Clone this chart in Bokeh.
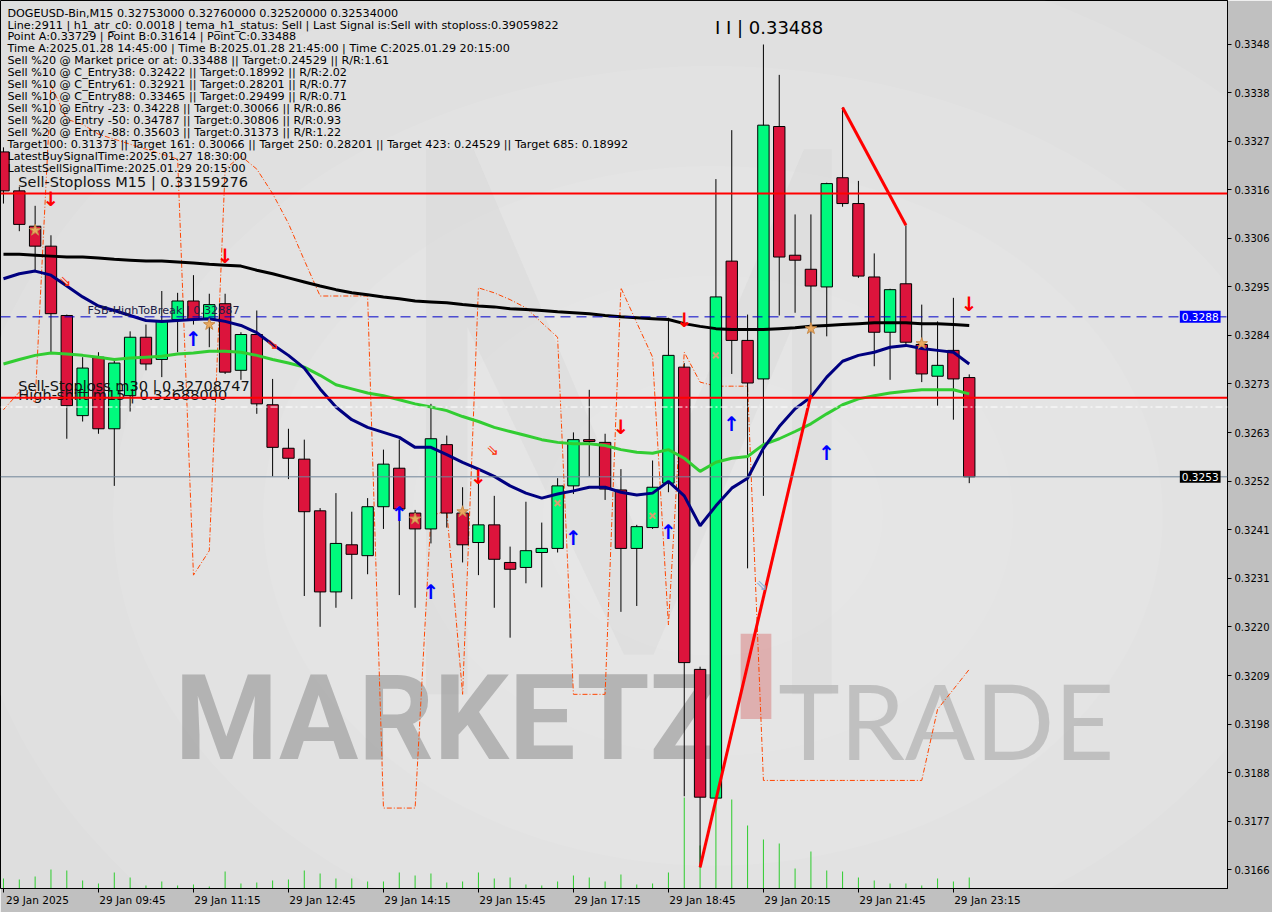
import numpy as np
from bokeh.plotting import figure
from bokeh.models import Range1d, FixedTicker, CustomJSTickFormatter, Label, Span, ColumnDataSource, LinearAxis
from bokeh.core.properties import value
from bokeh.embed import file_html
from bokeh.resources import INLINE

# ---------------- data ----------------
info_lines = [
    "DOGEUSD-Bin,M15  0.32753000 0.32760000 0.32520000 0.32534000",
    "Line:2911 | h1_atr_c0: 0.0018 | tema_h1_status: Sell | Last Signal is:Sell with stoploss:0.39059822",
    "Point A:0.33729 | Point B:0.31614 | Point C:0.33488",
    "Time A:2025.01.28 14:45:00 | Time B:2025.01.28 21:45:00 | Time C:2025.01.29 20:15:00",
    "Sell %20 @ Market price or at: 0.33488 || Target:0.24529 || R/R:1.61",
    "Sell %10 @ C_Entry38: 0.32422 || Target:0.18992 || R/R:2.02",
    "Sell %10 @ C_Entry61: 0.32921 || Target:0.28201 || R/R:0.77",
    "Sell %10 @ C_Entry88: 0.33465 || Target:0.29499 || R/R:0.71",
    "Sell %10 @ Entry -23: 0.34228 || Target:0.30066 || R/R:0.86",
    "Sell %20 @ Entry -50: 0.34787 || Target:0.30806 || R/R:0.93",
    "Sell %20 @ Entry -88: 0.35603 || Target:0.31373 || R/R:1.22",
    "Target100: 0.31373 || Target 161: 0.30066 || Target 250: 0.28201 || Target 423: 0.24529 || Target 685: 0.18992",
    "LatestBuySignalTime:2025.01.27 18:30:00",
    "LatestSellSignalTime:2025.01.29 20:15:00",
]

tick_bars = [0, 6, 12, 18, 24, 30, 36, 42, 48, 54, 60]
tick_labels = ["29 Jan 2025", "29 Jan 09:45", "29 Jan 11:15", "29 Jan 12:45", "29 Jan 14:15",
               "29 Jan 15:45", "29 Jan 17:15", "29 Jan 18:45", "29 Jan 20:15", "29 Jan 21:45",
               "29 Jan 23:15"]
price_ticks = [0.33489, 0.33382, 0.33274, 0.33167, 0.33060, 0.32953, 0.32846, 0.32739, 0.32631,
               0.32524, 0.32417, 0.32310, 0.32203, 0.32095, 0.31988, 0.31881, 0.31774, 0.31667]

opens = [0.33251, 0.33165, 0.33087, 0.33043, 0.32890, 0.32669, 0.32798, 0.32640, 0.32713, 0.32842,
         0.32793, 0.32881, 0.32922, 0.32881, 0.32916, 0.32769, 0.32848, 0.32693, 0.32597, 0.32573,
         0.32459, 0.32280, 0.32384, 0.32360, 0.32468, 0.32553, 0.32454, 0.32419, 0.32605, 0.32454,
         0.32389, 0.32428, 0.32345, 0.32334, 0.32367, 0.32376, 0.32514, 0.32616, 0.32610, 0.32505,
         0.32376, 0.32422, 0.32520, 0.32776, 0.32109, 0.31825, 0.33010, 0.32835, 0.32750, 0.33307,
         0.33023, 0.32992, 0.32953, 0.33194, 0.33137, 0.32975, 0.32853, 0.32960, 0.32826, 0.32756,
         0.32813, 0.32753]
highs = [0.33261, 0.33174, 0.33132, 0.33067, 0.32892, 0.32798, 0.32809, 0.32793, 0.32855, 0.32870,
         0.32944, 0.32940, 0.32979, 0.32938, 0.32938, 0.32853, 0.32901, 0.32750, 0.32640, 0.32616,
         0.32465, 0.32498, 0.32457, 0.32487, 0.32594, 0.32616, 0.32461, 0.32695, 0.32625, 0.32511,
         0.32522, 0.32492, 0.32380, 0.32479, 0.32433, 0.32531, 0.32632, 0.32726, 0.32629, 0.32551,
         0.32428, 0.32570, 0.32885, 0.32785, 0.32115, 0.33191, 0.33299, 0.32892, 0.33488, 0.33421,
         0.33113, 0.33113, 0.33183, 0.33349, 0.33187, 0.33027, 0.32949, 0.33089, 0.32914, 0.32877,
         0.32929, 0.32760]
lows = [0.33137, 0.33076, 0.32990, 0.32809, 0.32618, 0.32656, 0.32629, 0.32514, 0.32678, 0.32769,
        0.32754, 0.32809, 0.32870, 0.32820, 0.32761, 0.32748, 0.32673, 0.32535, 0.32529, 0.32271,
        0.32203, 0.32245, 0.32264, 0.32319, 0.32419, 0.32273, 0.32245, 0.32387, 0.32422, 0.32345,
        0.32317, 0.32245, 0.32179, 0.32299, 0.32290, 0.32367, 0.32496, 0.32535, 0.32483, 0.32236,
        0.32249, 0.32419, 0.32500, 0.31829, 0.31672, 0.31822, 0.32761, 0.32332, 0.32492, 0.32890,
        0.32896, 0.32715, 0.32844, 0.33130, 0.32973, 0.32778, 0.32748, 0.32826, 0.32743, 0.32691,
        0.32660, 0.32520]
closes = [0.33165, 0.33091, 0.33043, 0.32894, 0.32691, 0.32774, 0.32640, 0.32785, 0.32842, 0.32783,
          0.32879, 0.32922, 0.32881, 0.32914, 0.32765, 0.32848, 0.32695, 0.32599, 0.32575, 0.32457,
          0.32280, 0.32387, 0.32363, 0.32468, 0.32562, 0.32463, 0.32419, 0.32618, 0.32454, 0.32384,
          0.32428, 0.32352, 0.32330, 0.32371, 0.32376, 0.32514, 0.32616, 0.32612, 0.32507, 0.32376,
          0.32424, 0.32511, 0.32802, 0.32124, 0.31827, 0.32931, 0.32835, 0.32741, 0.33310, 0.33019,
          0.33012, 0.32955, 0.33181, 0.33137, 0.32977, 0.32853, 0.32947, 0.32831, 0.32761, 0.32780,
          0.32750, 0.32534]
volumes = [250, 225, 300, 475, 450, 200, 125, 400, 275, 75,
           175, 75, 100, 50, 425, 125, 150, 200, 225, 450,
           375, 250, 250, 175, 175, 400, 325, 375, 150, 175,
           400, 250, 275, 100, 75, 175, 325, 275, 175, 350,
           100, 125, 400, 2275, 1075, 2775, 2225, 1575, 1225, 1125,
           500, 925, 450, 425, 275, 200, 125, 125, 75, 250, 175, 275]

ma_black = [0.33025, 0.33025, 0.33023, 0.33021, 0.33019, 0.33019, 0.33017, 0.33014, 0.33012, 0.33010,
            0.33010, 0.33008, 0.33006, 0.33003, 0.33001, 0.32999, 0.32990, 0.32982, 0.32973, 0.32964,
            0.32955, 0.32947, 0.32940, 0.32936, 0.32931, 0.32927, 0.32922, 0.32920, 0.32918, 0.32914,
            0.32911, 0.32909, 0.32905, 0.32903, 0.32901, 0.32898, 0.32896, 0.32894, 0.32890, 0.32887,
            0.32885, 0.32883, 0.32881, 0.32872, 0.32866, 0.32861, 0.32859, 0.32859, 0.32859, 0.32861,
            0.32863, 0.32866, 0.32868, 0.32870, 0.32872, 0.32874, 0.32874, 0.32874, 0.32872, 0.32872,
            0.32870, 0.32868]
ma_navy = [0.32971, 0.32982, 0.32988, 0.32979, 0.32955, 0.32931, 0.32911, 0.32901, 0.32890, 0.32879,
           0.32877, 0.32879, 0.32881, 0.32883, 0.32877, 0.32868, 0.32852, 0.32826, 0.32802, 0.32774,
           0.32728, 0.32688, 0.32660, 0.32643, 0.32632, 0.32621, 0.32599, 0.32599, 0.32583, 0.32566,
           0.32551, 0.32535, 0.32514, 0.32498, 0.32487, 0.32496, 0.32503, 0.32511, 0.32511, 0.32500,
           0.32494, 0.32498, 0.32524, 0.32492, 0.32426, 0.32470, 0.32509, 0.32531, 0.32597, 0.32645,
           0.32684, 0.32710, 0.32754, 0.32789, 0.32802, 0.32809, 0.32820, 0.32824, 0.32817, 0.32813,
           0.32809, 0.32783]
ma_green = [0.32783, 0.32793, 0.32802, 0.32807, 0.32805, 0.32802, 0.32798, 0.32793, 0.32796, 0.32798,
            0.32800, 0.32805, 0.32807, 0.32811, 0.32811, 0.32809, 0.32802, 0.32793, 0.32785, 0.32776,
            0.32758, 0.32737, 0.32728, 0.32719, 0.32713, 0.32704, 0.32695, 0.32688, 0.32680, 0.32667,
            0.32656, 0.32643, 0.32634, 0.32625, 0.32616, 0.32610, 0.32607, 0.32607, 0.32603, 0.32594,
            0.32588, 0.32586, 0.32594, 0.32575, 0.32546, 0.32566, 0.32575, 0.32579, 0.32605, 0.32618,
            0.32634, 0.32651, 0.32673, 0.32693, 0.32706, 0.32713, 0.32719, 0.32723, 0.32726, 0.32726,
            0.32726, 0.32717]
envelope = [0.32682, 0.32721, 0.32699, 0.33399, 0.33323, 0.33312, 0.33290, 0.33279, 0.33268, 0.33257,
            0.33246, 0.33235, 0.32317, 0.32371, 0.33213, 0.33242, 0.33213, 0.33159, 0.33093, 0.33012,
            0.32933, 0.32933, 0.32933, 0.32933, 0.31803, 0.31803, 0.31803, 0.32448, 0.32459, 0.32054,
            0.32951, 0.32940, 0.32925, 0.32907, 0.32874, 0.32842, 0.32054, 0.32054, 0.32054, 0.32951,
            0.32874, 0.32798, 0.32207, 0.32809, 0.32743, 0.32734, 0.32734, 0.32734, 0.31864, 0.31864,
            0.31864, 0.31864, 0.31864, 0.31864, 0.31864, 0.31864, 0.31864, 0.31864, 0.31864, 0.32021,
            0.32065, 0.32109]

sell_stoploss_m15 = 0.33159276
sell_stoploss_m30 = 0.32708747
high_shift_m15 = 0.32688000
fsb_high_to_break = 0.32887
point_c = 0.33488
last_close = 0.32534

sell_sig_bars = [3, 14, 30, 39, 43, 61]
sell_sig_price = [0.33148, 0.33021, 0.32533, 0.32645, 0.32879, 0.32916]
buy_sig_bars = [12, 25, 27, 36, 42, 46, 52]
buy_sig_price = [0.32839, 0.32452, 0.32280, 0.32398, 0.32413, 0.32651, 0.32586]
star_bars = [2, 13, 26, 29, 51, 58]
star_price = [0.33078, 0.32870, 0.32441, 0.32457, 0.32861, 0.32828]
cross_bars = [35, 41, 45]
cross_price = [0.32476, 0.32448, 0.32802]
hollow_bars = [3.9, 17.0, 30.9, 47.9]
hollow_price = [0.32966, 0.32826, 0.32594, 0.32295]
hollow_colors = ["#ff2a00", "#ff2a00", "#ff2a00", "#7fa8d8"]

trend_up_bars = [44, 51]
trend_up_price = [0.31672, 0.32715]
trend_dn_bars = [53, 57]
trend_dn_price = [0.33349, 0.33089]

# ---------------- layout helpers (reference pixel -> data) ----------------
BAR0_PX, BAR_PX = 3.0, 16.0
P_AT_0PX, PX_PER_PRICE = 0.335851, 45724.0


def bx(px):
    return (px - BAR0_PX) / BAR_PX


def py(px):
    return P_AT_0PX - px / PX_PER_PRICE


BULL, BEAR = "#00FA7D", "#DC143C"
FONT = value("DejaVu Sans")

p = figure(width=1272, height=912, x_range=Range1d(bx(0), bx(1240)), y_range=Range1d(py(896), py(0)),
           output_backend="svg", toolbar_location=None, y_axis_location="right", x_axis_location=None,
           min_border_left=0, min_border_top=0, min_border_right=44, min_border_bottom=24)
p.background_fill_color = "#dedede"
p.border_fill_color = "#c0c0c0"
p.outline_line_color = "black"
p.grid.visible = False
p.extra_y_ranges = {"vol": Range1d(0, 22200)}

# background glow
for w, h, a in [(1500, 1150, 0.07), (1200, 900, 0.07), (900, 700, 0.07), (600, 480, 0.07), (340, 280, 0.06)]:
    p.ellipse(x=bx(720), y=py(520), width=w, height=h, width_units="screen", height_units="screen",
              fill_color="white", fill_alpha=a, line_color=None)

# faint logo "M"
logo_px = [(430, 150), (478, 150), (645, 540), (812, 150), (840, 150), (840, 700), (800, 700), (800, 330),
           (660, 660), (630, 660), (472, 330), (472, 700), (430, 700)]
p.patch([bx(a) for a, b in logo_px], [py(b) for a, b in logo_px], fill_color="#a0a0a0", fill_alpha=0.07,
        line_color=None)

# watermark
p.text(x=[bx(176)], y=[py(725)], text=["MARKETZ"], text_font=value("Roboto"), text_font_style="bold",
       text_font_size="118px", text_color="#8c8c8c", text_alpha=0.55, text_baseline="alphabetic")
p.quad(left=bx(748), right=bx(779), top=py(639), bottom=py(725), fill_color="#d77a7a", fill_alpha=0.5,
       line_color=None)
p.text(x=[bx(786)], y=[py(725)], text=["TRADE"], text_font=value("Lato"),
       text_font_size="104px", text_color="#b0b0b0", text_alpha=0.7, text_baseline="alphabetic")

idx = np.arange(len(opens))
o, h, l, c = map(np.array, (opens, highs, lows, closes))

# volume
p.segment(x0=idx, y0=0, x1=idx, y1=volumes, y_range_name="vol", line_color="#2ecc2e", line_width=1)

# envelope
p.line(idx, envelope, line_color="#ff4500", line_width=1, line_dash="5 2 1 2")

# horizontal levels
p.add_layout(Span(location=high_shift_m15, dimension="width", line_color="white", line_width=1,
                  line_dash="7 3 2 3"))
p.add_layout(Span(location=fsb_high_to_break, dimension="width", line_color="#0000c8", line_width=1,
                  line_dash="10 6"))
p.add_layout(Span(location=last_close, dimension="width", line_color="#71859a", line_width=1))

# candles
src = ColumnDataSource(dict(x=idx, top=np.maximum(o, c), bottom=np.minimum(o, c), high=h, low=l,
                            color=np.where(c >= o, BULL, BEAR)))
p.segment(x0="x", y0="low", x1="x", y1="high", source=src, line_color="black", line_width=1)
p.vbar(x="x", width=11.5 / 16, top="top", bottom="bottom", fill_color="color", line_color="black",
       line_width=1, source=src)

# moving averages
p.line(idx, ma_green, line_color="#32cd32", line_width=3)
p.line(idx, ma_black, line_color="black", line_width=3)
p.line(idx, ma_navy, line_color="#000080", line_width=3)

# stop loss lines
p.add_layout(Span(location=sell_stoploss_m15, dimension="width", line_color="#ff0000", line_width=2))
p.add_layout(Span(location=sell_stoploss_m30, dimension="width", line_color="#ff0000", line_width=2))

# trend lines
p.line(trend_up_bars, trend_up_price, line_color="#ff0000", line_width=3)
p.line(trend_dn_bars, trend_dn_price, line_color="#ff0000", line_width=3)

# signals
p.text(x=sell_sig_bars, y=sell_sig_price, text=["↓"] * len(sell_sig_bars), text_color="#ff0000",
       text_font=FONT, text_font_style="bold", text_font_size="20px", text_align="center",
       text_baseline="middle")
p.text(x=buy_sig_bars, y=buy_sig_price, text=["↑"] * len(buy_sig_bars), text_color="#0000ff",
       text_font=FONT, text_font_style="bold", text_font_size="20px", text_align="center",
       text_baseline="middle")
p.scatter(star_bars, star_price, marker="star", size=12, fill_color="#e8a860", line_color="#c88a48")
p.scatter(cross_bars, cross_price, marker="x", size=8, line_color="#d8a070", line_width=2)
p.text(x=hollow_bars, y=hollow_price, text=["⇘"] * len(hollow_bars), text_color=hollow_colors,
       text_font=FONT, text_font_size="15px", text_align="center", text_baseline="middle")

# texts
p.text(x=[bx(7)] * len(info_lines), y=[py(12.7 + 12.05 * i) for i in range(len(info_lines))],
       text=info_lines, text_font=FONT, text_font_size="11.2px", text_color="black",
       text_baseline="middle", text_align="left")
p.text(x=[bx(18)], y=[py(183)], text=["Sell-Stoploss M15 | %.8f" % sell_stoploss_m15], text_font=FONT,
       text_font_size="14.5px", text_color="#111111", text_baseline="middle")
p.text(x=[bx(18)], y=[py(389)], text=["Sell-Stoploss m30 | %.8f" % sell_stoploss_m30], text_font=FONT,
       text_font_size="14.5px", text_color="#111111", text_baseline="middle")
p.text(x=[bx(18)], y=[py(398)], text=["High-shift m15 | %.8f" % high_shift_m15], text_font=FONT,
       text_font_size="14.5px", text_color="#111111", text_baseline="middle")
p.text(x=[bx(88)], y=[py(313)], text=["FSB-HighToBreak | %.5f" % fsb_high_to_break], text_font=FONT,
       text_font_size="11.2px", text_color="#1c1c48", text_baseline="middle")
p.text(x=[bx(722)], y=[py(27)], text=["I I | %.5f" % point_c], text_font=FONT,
       text_font_size="18px", text_color="black", text_baseline="middle")

# price markers at the right edge of the frame
p.add_layout(Label(x=bx(1233), y=fsb_high_to_break, text="0.3288", text_font_size="10.5px",
                   text_font="DejaVu Sans", text_color="white", text_baseline="middle", text_align="right",
                   background_fill_color="#0000ff", padding=2))
p.add_layout(Label(x=bx(1233), y=last_close, text="0.3253", text_font_size="10.5px",
                   text_font="DejaVu Sans", text_color="white", text_baseline="middle", text_align="right",
                   background_fill_color="black", padding=2))

# x axes: tick marks at the bars, labels starting just right of each tick
tick_axis = LinearAxis(ticker=FixedTicker(ticks=tick_bars), major_tick_in=0, major_tick_out=4,
                       minor_tick_line_color=None, major_label_text_font_size="0px",
                       major_label_standoff=0, axis_line_color="black")
tick_axis.major_label_overrides = {b: "" for b in tick_bars}
p.add_layout(tick_axis, "below")
LABEL_SHIFT = 2.15
label_pos = [b + LABEL_SHIFT for b in tick_bars]
label_axis = LinearAxis(ticker=FixedTicker(ticks=label_pos), major_tick_in=0, major_tick_out=0,
                        minor_tick_line_color=None, axis_line_color=None, major_label_standoff=1,
                        major_label_text_font="DejaVu Sans", major_label_text_font_size="10.5px",
                        major_label_text_color="black")
label_axis.major_label_overrides = {pos: t for pos, t in zip(label_pos, tick_labels)}
p.add_layout(label_axis, "below")

ya = p.yaxis[0]
ya.ticker = FixedTicker(ticks=price_ticks)
ya.formatter = CustomJSTickFormatter(code="return (Math.floor(tick*10000 + 1e-6)/10000).toFixed(4);")
ya.major_label_text_font = "DejaVu Sans"
ya.major_label_text_font_size = "10px"
ya.major_label_text_color = "black"
ya.major_tick_in = 0
ya.major_tick_out = 4
ya.minor_tick_line_color = None
ya.major_label_standoff = 3

open("out.html", "w").write(file_html(p, INLINE))
